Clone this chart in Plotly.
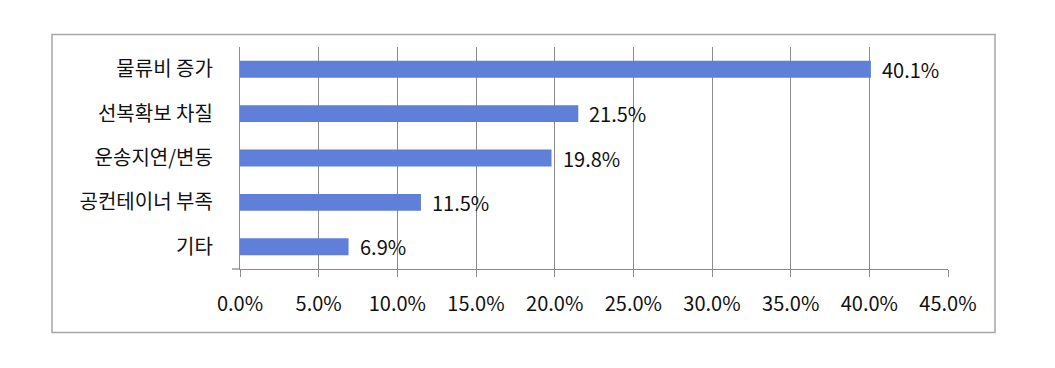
import plotly.graph_objects as go

categories = ["물류비 증가", "선복확보 차질", "운송지연/변동", "공컨테이너 부족", "기타"]
values = [40.1, 21.5, 19.8, 11.5, 6.9]
tick_values = [0, 5, 10, 15, 20, 25, 30, 35, 40, 45]
tick_labels = ["0.0%", "5.0%", "10.0%", "15.0%", "20.0%", "25.0%", "30.0%", "35.0%", "40.0%", "45.0%"]

FONT = "Noto Sans CJK KR"
GRID = "#8c8c8c"
TXT = "#111111"
FS = 20

fig = go.Figure()
fig.add_trace(go.Bar(
    x=values, y=categories, orientation="h",
    marker=dict(color="#5f7fd9", line=dict(width=0)),
    width=0.38,
))

for c, v in zip(categories, values):
    fig.add_annotation(x=v, y=c, text=f"{v:.1f}%", showarrow=False,
                       xanchor="left", xshift=9,
                       font=dict(family=FONT, size=FS, color=TXT))

# page body has an 8px margin; target pixel positions are offset by it
OFF = 8
W, H = 1055 - 2 * OFF, 368 - 2 * OFF
L, T = 240 - OFF, 47 - OFF
R = W - (948 - OFF)
B = H - (269 - OFF)
pw, ph = W - L - R, H - T - B

def px_x(p):
    return (p - OFF - L) / pw

def px_y(p):
    return (H - B - (p - OFF)) / ph

fig.add_shape(type="rect", xref="paper", yref="paper",
              x0=px_x(52), x1=px_x(995), y0=px_y(332.5), y1=px_y(34.5),
              line=dict(color="#a6a6a6", width=1.5), layer="below")
fig.add_shape(type="line", xref="paper", yref="paper",
              x0=px_x(232), x1=0, y0=0, y1=0,
              line=dict(color=GRID, width=1.3))

fig.update_layout(
    width=W, height=H,
    margin=dict(l=L, r=R, t=T, b=B),
    paper_bgcolor="white", plot_bgcolor="white",
    showlegend=False,
    font=dict(family=FONT, size=FS, color=TXT),
)
fig.update_xaxes(
    range=[0, 45], tickvals=tick_values, ticktext=tick_labels,
    showgrid=True, gridcolor=GRID, gridwidth=1.3,
    showline=True, linecolor=GRID, linewidth=1.3,
    ticks="outside", ticklen=7, tickcolor=GRID, tickwidth=1.3,
    ticklabelstandoff=10, zeroline=False,
    tickfont=dict(family=FONT, size=FS, color=TXT),
)
fig.update_yaxes(
    autorange="reversed",
    showline=True, linecolor=GRID, linewidth=1.3,
    ticks="", showgrid=False, ticklabelstandoff=22,
    tickfont=dict(family=FONT, size=FS, color=TXT),
)

fig.write_html("out.html")
